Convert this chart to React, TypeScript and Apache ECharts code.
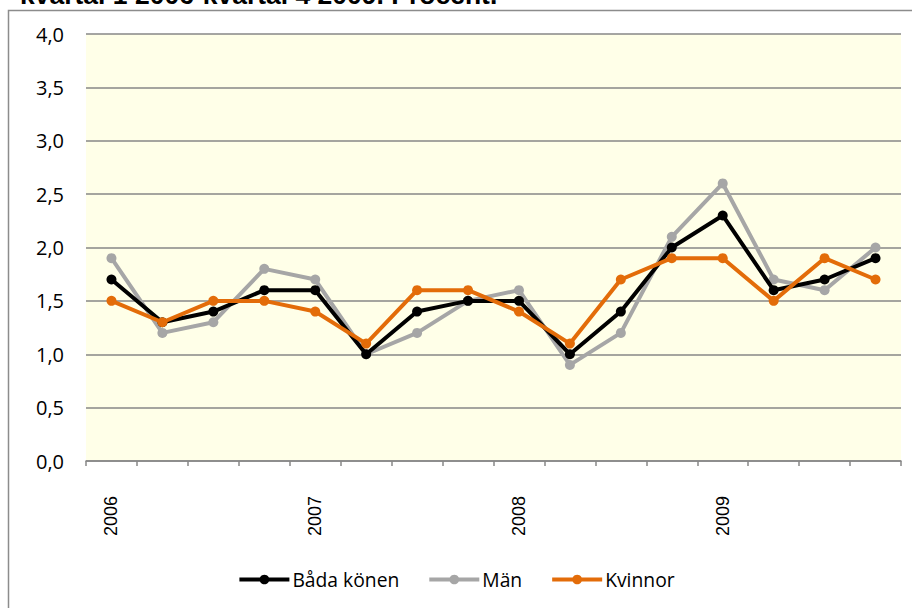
import React, { useEffect, useRef } from "react";
import * as echarts from "echarts";

const quarters = [
  "2006 K1", "2006 K2", "2006 K3", "2006 K4",
  "2007 K1", "2007 K2", "2007 K3", "2007 K4",
  "2008 K1", "2008 K2", "2008 K3", "2008 K4",
  "2009 K1", "2009 K2", "2009 K3", "2009 K4",
];
const yearLabels = ["2006", "", "", "", "2007", "", "", "", "2008", "", "", "", "2009", "", "", ""];
const badaKonen = [1.7, 1.3, 1.4, 1.6, 1.6, 1.0, 1.4, 1.5, 1.5, 1.0, 1.4, 2.0, 2.3, 1.6, 1.7, 1.9];
const man = [1.9, 1.2, 1.3, 1.8, 1.7, 1.0, 1.2, 1.5, 1.6, 0.9, 1.2, 2.1, 2.6, 1.7, 1.6, 2.0];
const kvinnor = [1.5, 1.3, 1.5, 1.5, 1.4, 1.1, 1.6, 1.6, 1.4, 1.1, 1.7, 1.9, 1.9, 1.5, 1.9, 1.7];
const seriesNames = ["Båda könen", "Män", "Kvinnor"];
const colors = ["#000000", "#A6A6A6", "#E36C09"];
const titleText = "kvartal 1 2006-kvartal 4 2009. Procent.";

export default function App() {
  const ref = useRef<HTMLDivElement>(null);
  useEffect(() => {
    if (!ref.current) return;
    const chart = echarts.init(ref.current, undefined, { renderer: "svg" });
    const mk = (name: string, data: number[], color: string, z: number) => ({
      name,
      type: "line",
      data,
      z,
      symbol: "circle",
      symbolSize: 10,
      lineStyle: { color, width: 4 },
      itemStyle: { color },
    });
    chart.setOption({
      animation: false,
      backgroundColor: "#ffffff",
      graphic: [
        {
          type: "rect",
          z: -10,
          shape: { x: 8.5, y: 10.5, width: 1000, height: 1000 },
          style: { fill: "#ffffff", stroke: "#8c8c8c", lineWidth: 1.5 },
        },
        {
          type: "text",
          x: 20,
          y: -5.5,
          style: {
            text: titleText,
            align: "left",
            verticalAlign: "middle",
            font: "bold 26.5px 'Liberation Sans', Arial, sans-serif",
            fill: "#000",
          },
        },
      ],
      grid: { left: 86, right: 11, top: 34, bottom: 147, backgroundColor: "#FFFFE8", show: true, borderWidth: 0 },
      legend: {
        bottom: 14,
        left: "center",
        itemWidth: 50,
        itemHeight: 12,
        itemGap: 28,
        data: seriesNames,
        lineStyle: { width: 4 },
        textStyle: { fontFamily: "'Open Sans', 'Noto Sans', sans-serif", fontSize: 19.3, color: "#000", padding: [0, 0, 0, -2] },
      },
      xAxis: {
        type: "category",
        data: quarters,
        boundaryGap: true,
        axisLine: { lineStyle: { color: "#878787", width: 1.5 } },
        axisTick: { show: true, interval: 0, length: 5, lineStyle: { color: "#878787", width: 1.5 } },
        axisLabel: {
          interval: 0,
          rotate: 90,
          margin: 35,
          formatter: (_v: string, i: number) => yearLabels[i],
          fontFamily: "'Liberation Sans', Arial, sans-serif",
          fontSize: 18,
          color: "#000",
        },
        splitLine: { show: false },
      },
      yAxis: {
        type: "value",
        min: 0,
        max: 4,
        interval: 0.5,
        axisLine: { show: false },
        axisTick: { show: false },
        axisLabel: {
          margin: 22,
          formatter: (v: number) => v.toFixed(1).replace(".", ","),
          fontFamily: "'Open Sans', 'Noto Sans', sans-serif",
          fontSize: 20,
          color: "#000",
        },
        splitLine: { lineStyle: { color: "#878787", width: 1.5 } },
      },
      series: [
        mk(seriesNames[0], badaKonen, colors[0], 3),
        mk(seriesNames[1], man, colors[1], 2),
        mk(seriesNames[2], kvinnor, colors[2], 4),
      ],
    });
    return () => chart.dispose();
  }, []);
  return (
    <div
      ref={ref}
      style={{ position: "fixed", left: 0, top: 0, width: 912, height: 608 }}
    />
  );
}
